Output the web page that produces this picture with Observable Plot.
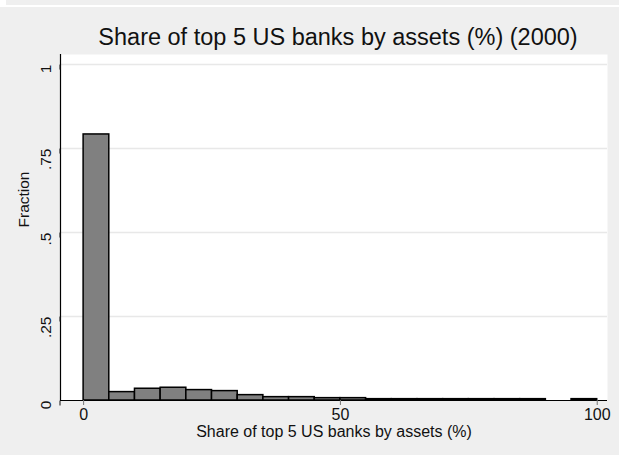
<!DOCTYPE html>
<html>
<head>
<meta charset="utf-8">
<script src="https://cdn.jsdelivr.net/npm/d3@7"></script>
<script src="https://cdn.jsdelivr.net/npm/@observablehq/plot@0.6"></script>
<style>
  html, body { margin: 0; padding: 0; background: #efefef; width: 619px; height: 455px; overflow: hidden; font-family: "Liberation Sans", Arial, sans-serif; }
  #strip1 { position: absolute; left: 0; top: 0; width: 6px; height: 5px; background: #fff; }
  #strip2 { position: absolute; left: 0; top: 5px; width: 619px; height: 2px; background: #fff; }
  #title { height: 50px; box-sizing: border-box; padding-top: 25px; padding-left: 57px; text-align: center; font-size: 23.5px; line-height: 24px; color: #111; white-space: nowrap; }
  #chart svg { display: block; }
</style>
</head>
<body>
<div id="strip1"></div>
<div id="strip2"></div>
<div id="title">Share of top 5 US banks by assets (%) (2000)</div>
<div id="chart"></div>
<script>
// Histogram bins (lower edge, width 5) and fraction per bin
const binStarts = [0, 5, 10, 15, 20, 25, 30, 35, 40, 45, 50, 55, 60, 65, 70, 75, 80, 85, 90, 95];
const fractions = [0.792, 0.025, 0.035, 0.038, 0.031, 0.028, 0.016, 0.010, 0.010, 0.007, 0.007, 0.004, 0.004, 0.004, 0.004, 0.004, 0.004, 0.004, 0, 0.004];
const binWidth = 5;
const xTicks = [0, 50, 100];
const yTicks = [0, 0.25, 0.5, 0.75, 1];
const yTickLabels = ["0", ".25", ".5", ".75", "1"];
const gridTicks = [0.25, 0.5, 0.75, 1];
const xDomain = [-4.5, 102];
const yDomain = [0, 1.03];
const xTitle = "Share of top 5 US banks by assets (%)";
const yTitle = "Fraction";

const bins = binStarts.map((s, i) => ({x1: s, x2: s + binWidth, y: fractions[i]})).filter(d => d.y > 0);

const chart = Plot.plot({
  width: 619,
  height: 405,
  marginTop: 4,
  marginLeft: 60,
  marginRight: 12,
  marginBottom: 55,
  style: { fontFamily: "Liberation Sans, Arial, sans-serif", background: "transparent", color: "#111" },
  x: { domain: xDomain },
  y: { domain: yDomain },
  marks: [
    Plot.frame({ fill: "white", stroke: null }),
    Plot.ruleY(gridTicks, { stroke: "#e8e8e8", strokeWidth: 1.5 }),
    Plot.rectY(bins, { x1: "x1", x2: "x2", y: "y", fill: "#808080", stroke: "#000", strokeWidth: 1.5, inset: 0 }),
    Plot.ruleY([0], { stroke: "#000", strokeWidth: 1.2 }),
    Plot.ruleX([xDomain[0]], { stroke: "#000", strokeWidth: 1.2 }),
    Plot.axisX({ ticks: xTicks, tickSize: 5, tickPadding: 3, fontSize: 16, label: null, stroke: "#777", color: "#111" }),
    Plot.axisY({ ticks: yTicks, tickFormat: (d, i) => yTickLabels[i], tickSize: 5, tickPadding: 9, rotate: -90, fontSize: 15.5, label: null }),
    Plot.text([yTitle], { frameAnchor: "left", dx: -36, rotate: -90, fontSize: 15.5, fill: "#111" }),
    Plot.text([xTitle], { frameAnchor: "bottom", dy: 36, fontSize: 16, fill: "#111" })
  ]
});
document.getElementById("chart").appendChild(chart);
</script>
</body>
</html>
